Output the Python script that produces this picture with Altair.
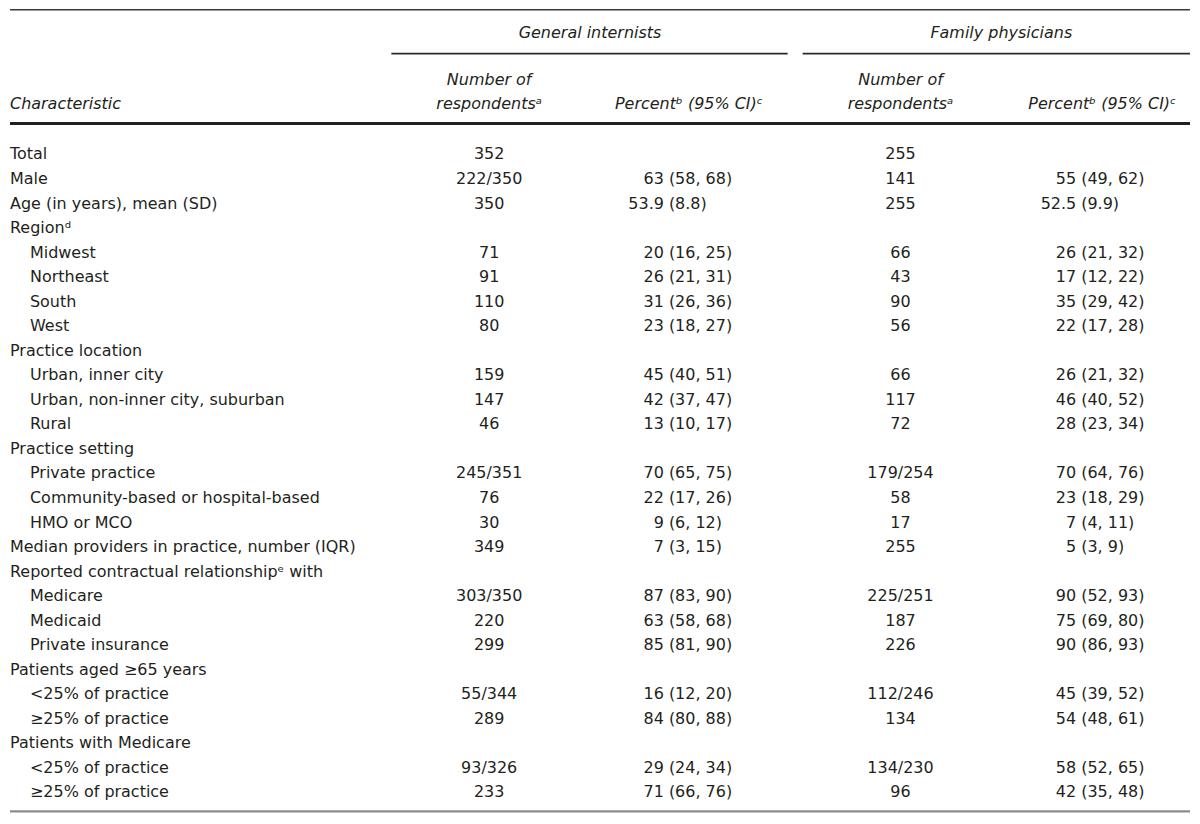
import altair as alt
import pandas as pd

labels = ["Total", "Male", "Age (in years), mean (SD)", "Regionᵈ", "Midwest", "Northeast", "South", "West",
          "Practice location", "Urban, inner city", "Urban, non-inner city, suburban", "Rural",
          "Practice setting", "Private practice", "Community-based or hospital-based", "HMO or MCO",
          "Median providers in practice, number (IQR)", "Reported contractual relationshipᵉ with",
          "Medicare", "Medicaid", "Private insurance", "Patients aged ≥65 years",
          "<25% of practice", "≥25% of practice", "Patients with Medicare",
          "<25% of practice", "≥25% of practice"]
indent = [0, 0, 0, 0, 1, 1, 1, 1, 0, 1, 1, 1, 0, 1, 1, 1, 0, 0, 1, 1, 1, 0, 1, 1, 0, 1, 1]
gi_n = ["352", "222/350", "350", "", "71", "91", "110", "80", "", "159", "147", "46", "",
        "245/351", "76", "30", "349", "", "303/350", "220", "299", "", "55/344", "289", "", "93/326", "233"]
gi_est = ["", "63", "53.9", "", "20", "26", "31", "23", "", "45", "42", "13", "",
          "70", "22", "9", "7", "", "87", "63", "85", "", "16", "84", "", "29", "71"]
gi_ci = ["", "(58, 68)", "(8.8)", "", "(16, 25)", "(21, 31)", "(26, 36)", "(18, 27)", "",
         "(40, 51)", "(37, 47)", "(10, 17)", "", "(65, 75)", "(17, 26)", "(6, 12)", "(3, 15)", "",
         "(83, 90)", "(58, 68)", "(81, 90)", "", "(12, 20)", "(80, 88)", "", "(24, 34)", "(66, 76)"]
fp_n = ["255", "141", "255", "", "66", "43", "90", "56", "", "66", "117", "72", "",
        "179/254", "58", "17", "255", "", "225/251", "187", "226", "", "112/246", "134", "", "134/230", "96"]
fp_est = ["", "55", "52.5", "", "26", "17", "35", "22", "", "26", "46", "28", "",
          "70", "23", "7", "5", "", "90", "75", "90", "", "45", "54", "", "58", "42"]
fp_ci = ["", "(49, 62)", "(9.9)", "", "(21, 32)", "(12, 22)", "(29, 42)", "(17, 28)", "",
         "(21, 32)", "(40, 52)", "(23, 34)", "", "(64, 76)", "(18, 29)", "(4, 11)", "(3, 9)", "",
         "(52, 93)", "(69, 80)", "(86, 93)", "", "(39, 52)", "(48, 61)", "", "(52, 65)", "(35, 48)"]

group_headers = ["General internists", "Family physicians"]
col_headers_top = ["Number of", "Number of"]
col_headers_bottom = ["respondentsᵃ", "respondentsᵃ"]
pct_header = "Percentᵇ (95% CI)ᶜ"
char_header = "Characteristic"

# ---- layout (page pixel coordinates) ----
FONT = "DejaVu Sans"
FS = 16
COLOR = "#231f20"
ROW0, STEP = 154, 24.58
X_LABEL, X_INDENT = 10, 30
X_GI_N, X_GI_P = 490, 670
X_FP_N, X_FP_P = 902, 1083

rows = pd.DataFrame({
    "label": labels, "indent": indent,
    "gi_n": gi_n, "gi_est": gi_est, "gi_ci": gi_ci,
    "fp_n": fp_n, "fp_est": fp_est, "fp_ci": fp_ci,
})
rows["y"] = ROW0 + STEP * rows.index
rows["xl"] = [X_INDENT if i else X_LABEL for i in indent]

xs = alt.Scale(domain=[8, 1192], nice=False, zero=False)
ys = alt.Scale(domain=[8, 816], nice=False, zero=False, reverse=True)
X = lambda f: alt.X(f, type="quantitative", scale=xs, axis=None)
Y = lambda f: alt.Y(f, type="quantitative", scale=ys, axis=None)

base = alt.Chart(rows)
txt = dict(font=FONT, fontSize=FS, color=COLOR, baseline="middle")

lab = base.mark_text(align="left", **txt).encode(x=X("xl"), y=Y("y"), text="label:N")
gin = base.mark_text(align="center", **txt).encode(x=alt.datum(X_GI_N, scale=xs), y=Y("y"), text="gi_n:N")
fpn = base.mark_text(align="center", **txt).encode(x=alt.datum(X_FP_N, scale=xs), y=Y("y"), text="fp_n:N")
gie = base.mark_text(align="right", **txt).encode(x=alt.datum(X_GI_P - 5, scale=xs), y=Y("y"), text="gi_est:N")
gic = base.mark_text(align="left", **txt).encode(x=alt.datum(X_GI_P, scale=xs), y=Y("y"), text="gi_ci:N")
fpe = base.mark_text(align="right", **txt).encode(x=alt.datum(X_FP_P - 5, scale=xs), y=Y("y"), text="fp_est:N")
fpc = base.mark_text(align="left", **txt).encode(x=alt.datum(X_FP_P, scale=xs), y=Y("y"), text="fp_ci:N")

hdr = pd.DataFrame({
    "text": group_headers + col_headers_top + col_headers_bottom + [pct_header, pct_header, char_header],
    "x": [591, 1003, X_GI_N, X_FP_N, X_GI_N, X_FP_N, 690, 1104, X_LABEL],
    "y": [32, 32, 79, 79, 103, 103, 103, 103, 103],
    "align": ["center"] * 8 + ["left"],
})
hdr_c = alt.Chart(hdr[hdr["align"] == "center"]).mark_text(align="center", fontStyle="italic", **txt).encode(
    x=X("x"), y=Y("y"), text="text:N")
hdr_l = alt.Chart(hdr[hdr["align"] == "left"]).mark_text(align="left", fontStyle="italic", **txt).encode(
    x=X("x"), y=Y("y"), text="text:N")

lines = pd.DataFrame({
    "x": [10, 392, 804, 10, 10],
    "x2": [1192, 789, 1192, 1192, 1192],
    "y": [9, 53, 53, 123, 812],
    "w": [1.6, 1.6, 1.6, 2.8, 2.2],
    "c": ["#3a3a3a", "#2a2a2a", "#2a2a2a", "#231f20", "#8c8c8c"],
})
rules = alt.Chart(lines).mark_rule().encode(
    x=X("x"), x2="x2", y=Y("y"),
    strokeWidth=alt.StrokeWidth("w:Q", scale=None, legend=None),
    color=alt.Color("c:N", scale=None, legend=None),
)

chart = alt.layer(rules, hdr_c, hdr_l, lab, gin, fpn, gie, gic, fpe, fpc).properties(
    width=1184, height=808, padding=0, background="white"
).configure_view(stroke=None)

chart.save("out.html", embed_options={"renderer": "svg", "actions": False})
